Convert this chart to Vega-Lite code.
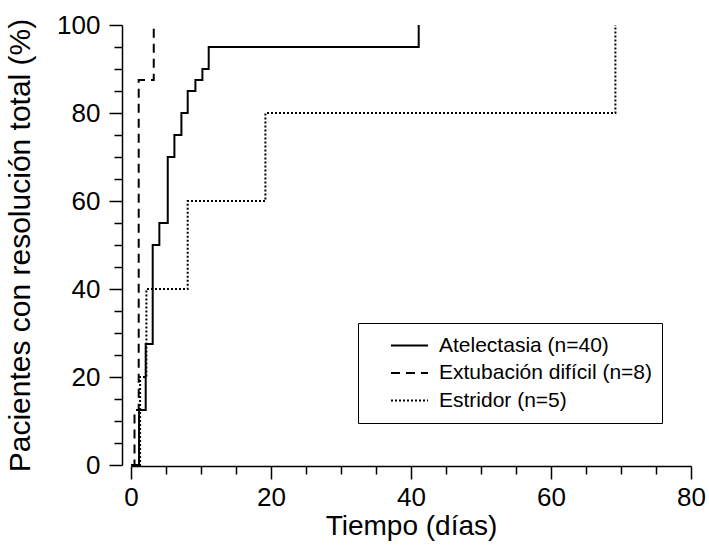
{
  "$schema": "https://vega.github.io/schema/vega-lite/v6.json",
  "width": 560,
  "height": 440,
  "autosize": "none",
  "padding": {"left": 131, "top": 25, "right": 18, "bottom": 85},
  "background": "white",
  "config": {
    "view": {"stroke": null},
    "font": "Liberation Sans",
    "axis": {
      "grid": false,
      "domainColor": "black",
      "domainWidth": 1.5,
      "tickColor": "black",
      "tickWidth": 1.5,
      "labelColor": "black",
      "titleColor": "black",
      "labelFont": "Liberation Sans",
      "titleFont": "Liberation Sans",
      "labelFontSize": 26,
      "titleFontWeight": "normal"
    }
  },
  "data": {
    "values": [
      {"grupo": "Atelectasia", "dias": 0, "pct": 0},
      {"grupo": "Atelectasia", "dias": 1.15, "pct": 12.5},
      {"grupo": "Atelectasia", "dias": 2.1, "pct": 27.5},
      {"grupo": "Atelectasia", "dias": 3.1, "pct": 50},
      {"grupo": "Atelectasia", "dias": 4.05, "pct": 55},
      {"grupo": "Atelectasia", "dias": 5.25, "pct": 70},
      {"grupo": "Atelectasia", "dias": 6.2, "pct": 75},
      {"grupo": "Atelectasia", "dias": 7.2, "pct": 80},
      {"grupo": "Atelectasia", "dias": 8.1, "pct": 85},
      {"grupo": "Atelectasia", "dias": 9.2, "pct": 87.5},
      {"grupo": "Atelectasia", "dias": 10.2, "pct": 90},
      {"grupo": "Atelectasia", "dias": 11.1, "pct": 95},
      {"grupo": "Atelectasia", "dias": 41.1, "pct": 100},
      {"grupo": "Extubación difícil", "dias": 0, "pct": 0},
      {"grupo": "Extubación difícil", "dias": 0.5, "pct": 12.5},
      {"grupo": "Extubación difícil", "dias": 1.1, "pct": 87.5},
      {"grupo": "Extubación difícil", "dias": 3.25, "pct": 100},
      {"grupo": "Estridor", "dias": 0, "pct": 0},
      {"grupo": "Estridor", "dias": 1.3, "pct": 20},
      {"grupo": "Estridor", "dias": 2.2, "pct": 40},
      {"grupo": "Estridor", "dias": 8.1, "pct": 60},
      {"grupo": "Estridor", "dias": 19.2, "pct": 80},
      {"grupo": "Estridor", "dias": 69.2, "pct": 100}
    ]
  },
  "mark": {"type": "line", "interpolate": "step-after", "color": "black", "strokeWidth": 2, "clip": false},
  "encoding": {
    "x": {
      "field": "dias", "type": "quantitative",
      "scale": {"domain": [0, 80], "nice": false},
      "axis": {
        "title": "Tiempo (días)",
        "titleFontSize": 28,
        "values": [0,5,10,15,20,25,30,35,40,45,50,55,60,65,70,75,80],
        "labelExpr": "datum.value % 20 === 0 ? datum.label : ''",
        "tickSize": {"condition": {"test": "datum.value % 20 === 0", "value": 13}, "value": 8},
        "labelPadding": 5,
        "labelFlush": false,
        "titlePadding": 2,
        "offset": 1
      }
    },
    "y": {
      "field": "pct", "type": "quantitative",
      "scale": {"domain": [0, 100], "nice": false},
      "axis": {
        "title": "Pacientes con resolución total (%)",
        "titleFontSize": 30,
        "values": [0,5,10,15,20,25,30,35,40,45,50,55,60,65,70,75,80,85,90,95,100],
        "labelExpr": "datum.value % 20 === 0 ? datum.label : ''",
        "tickSize": {"condition": {"test": "datum.value % 20 === 0", "value": 13}, "value": 8},
        "labelPadding": 9,
        "labelFlush": false,
        "titlePadding": 21,
        "offset": 9
      }
    },
    "strokeDash": {
      "field": "grupo", "type": "nominal",
      "scale": {
        "domain": ["Atelectasia", "Extubación difícil", "Estridor"],
        "range": [[1, 0], [9, 6], [2, 2]]
      },
      "legend": {
        "title": null,
        "orient": "none",
        "legendX": 227,
        "legendY": 298,
        "labelExpr": "datum.value === 'Atelectasia' ? 'Atelectasia (n=40)' : datum.value === 'Estridor' ? 'Estridor (n=5)' : 'Extubación difícil (n=8)\u00a0\u00a0\u00a0'",
        "labelFont": "Liberation Sans",
        "labelFontSize": 21,
        "labelLimit": 400,
        "labelColor": "black",
        "symbolType": "stroke",
        "symbolSize": 1369,
        "symbolStrokeWidth": 2,
        "symbolStrokeColor": "black",
        "symbolOffset": 23,
        "labelOffset": 10,
        "clipHeight": 27,
        "rowPadding": 0.5,
        "padding": 9,
        "strokeColor": "black",
        "fillColor": "white"
      }
    },
    "order": {"field": "dias", "type": "quantitative"}
  }
}
